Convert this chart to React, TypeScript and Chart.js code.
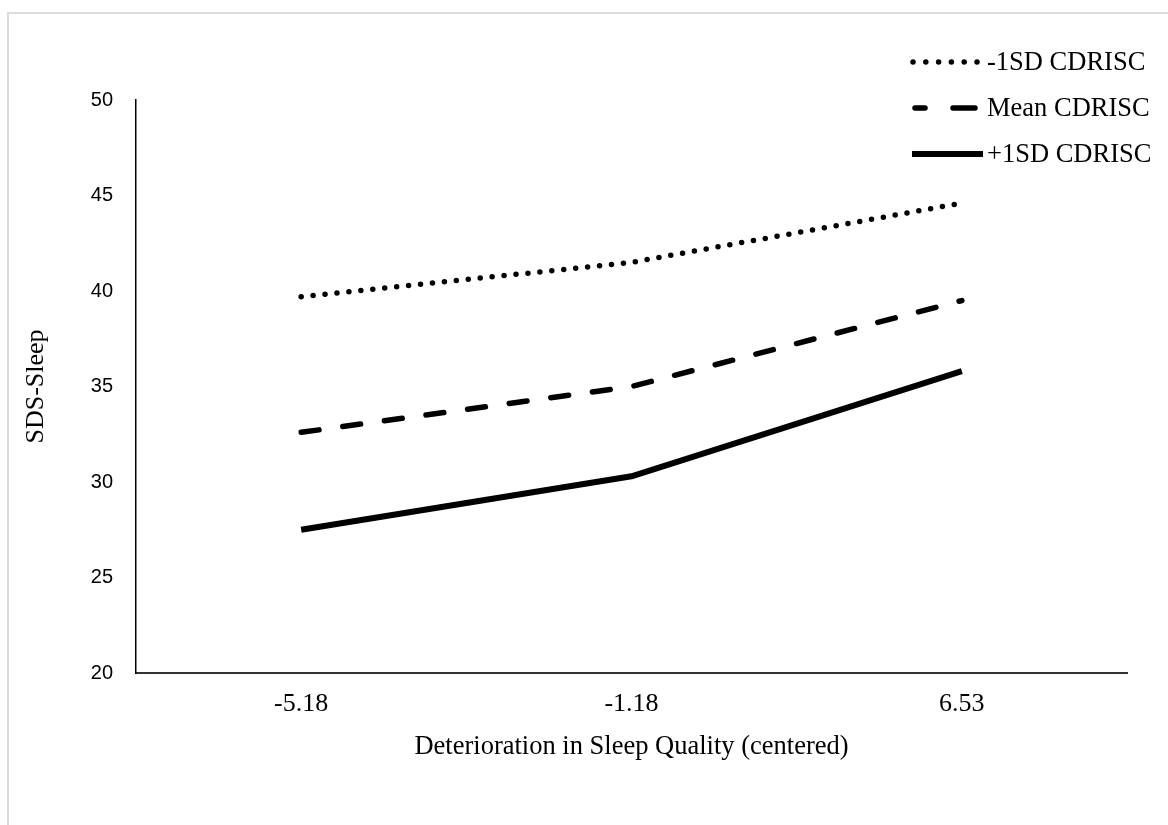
import { useEffect, useRef } from "react";
import { Chart, registerables } from "chart.js";

Chart.register(...registerables);

const categories = ["-5.18", "-1.18", "6.53"];
const seriesNames = ["-1SD CDRISC", "Mean CDRISC", "+1SD CDRISC"];
const lowResilience = [39.7, 41.5, 44.6];
const meanResilience = [32.6, 35.0, 39.5];
const highResilience = [27.5, 30.3, 35.8];
const yTicks = [20, 25, 30, 35, 40, 45, 50];
const xTitle = "Deterioration in Sleep Quality (centered)";
const yTitle = "SDS-Sleep";

const SERIF = '"Liberation Serif", "Times New Roman", serif';
const SANS = '"Liberation Sans", Arial, sans-serif';

const legendDash: number[][] = [[], [22, 28], []];
const legendDashOffset = [0, 12, 0];
const legendStart = [913, 915, 912];
const legendEnd = [977, 977, 983];

const legendPlugin = {
  id: "customLegend",
  afterDraw(chart: any) {
    const ctx = chart.ctx as CanvasRenderingContext2D;
    chart.data.datasets.forEach((ds: any, i: number) => {
      const y = 62 + 46 * i;
      ctx.save();
      ctx.strokeStyle = ds.borderColor;
      ctx.fillStyle = ds.borderColor;
      ctx.lineWidth = ds.borderWidth;
      ctx.lineCap = ds.borderCapStyle || "butt";
      if (i === 0) {
        const n = 6;
        const step = (legendEnd[i] - legendStart[i]) / (n - 1);
        for (let k = 0; k < n; k++) {
          ctx.beginPath();
          ctx.arc(legendStart[i] + k * step, y, ds.borderWidth / 2, 0, Math.PI * 2);
          ctx.fill();
        }
      } else {
        ctx.setLineDash(legendDash[i]);
        ctx.lineDashOffset = legendDashOffset[i];
        ctx.beginPath();
        ctx.moveTo(legendStart[i], y);
        ctx.lineTo(legendEnd[i], y);
        ctx.stroke();
        ctx.setLineDash([]);
      }
      ctx.fillStyle = "#000";
      ctx.font = `26.5px ${SERIF}`;
      ctx.textBaseline = "middle";
      ctx.textAlign = "left";
      ctx.fillText(ds.label, 987, y + 1);
      ctx.restore();
    });
  },
};

export default function App() {
  const canvasRef = useRef<HTMLCanvasElement | null>(null);

  useEffect(() => {
    if (!canvasRef.current) return;
    const chart = new Chart(canvasRef.current, {
      type: "line",
      data: {
        labels: categories,
        datasets: [
          {
            label: seriesNames[0],
            data: lowResilience,
            borderColor: "#000",
            borderWidth: 5.5,
            borderDash: [0, 12],
            borderCapStyle: "round",
            borderJoinStyle: "round",
            pointRadius: 0,
            tension: 0,
            fill: false,
          },
          {
            label: seriesNames[1],
            data: meanResilience,
            borderColor: "#000",
            borderWidth: 5.5,
            borderDash: [18, 24],
            borderCapStyle: "round",
            borderJoinStyle: "round",
            pointRadius: 0,
            tension: 0,
            fill: false,
          },
          {
            label: seriesNames[2],
            data: highResilience,
            borderColor: "#000",
            borderWidth: 6,
            borderCapStyle: "butt",
            borderJoinStyle: "round",
            pointRadius: 0,
            tension: 0,
            fill: false,
          },
        ],
      },
      options: {
        animation: false,
        responsive: false,
        devicePixelRatio: 1,
        layout: { padding: { top: 100, right: 41, left: 0, bottom: 0 } },
        plugins: {
          legend: { display: false },
          tooltip: { enabled: false },
        },
        scales: {
          x: {
            type: "category",
            offset: true,
            grid: { display: false, drawTicks: false },
            border: { display: true, color: "#333", width: 2 },
            ticks: {
              color: "#000",
              font: { family: SERIF, size: 26 },
              padding: 16,
            },
            title: {
              display: true,
              text: xTitle,
              color: "#000",
              font: { family: SERIF, size: 26.5 },
              padding: { top: 0, bottom: 62 },
            },
            afterFit: (s: any) => {
              s.height = 152;
            },
          },
          y: {
            min: 20,
            max: 50,
            grid: { display: false, drawTicks: false },
            border: { display: true, color: "#000", width: 1.5 },
            afterBuildTicks: (s: any) => {
              s.ticks = yTicks.map((v) => ({ value: v }));
            },
            ticks: {
              color: "#000",
              font: { family: SANS, size: 20 },
              padding: 23,
            },
            title: {
              display: true,
              text: yTitle,
              color: "#000",
              font: { family: SERIF, size: 26 },
              padding: { top: 21, bottom: 0 },
            },
            afterFit: (s: any) => {
              s.width = 136;
            },
          },
        },
      },
      plugins: [legendPlugin],
    });
    return () => chart.destroy();
  }, []);

  return (
    <>
      <div
        style={{
          position: "fixed",
          left: 7,
          top: 12,
          width: 1400,
          height: 1000,
          borderTop: "2px solid #dcdcdc",
          borderLeft: "2px solid #dcdcdc",
        }}
      />
      <canvas
        ref={canvasRef}
        width={1168}
        height={825}
        style={{ position: "fixed", left: 0, top: 0, width: 1168, height: 825 }}
      />
    </>
  );
}
